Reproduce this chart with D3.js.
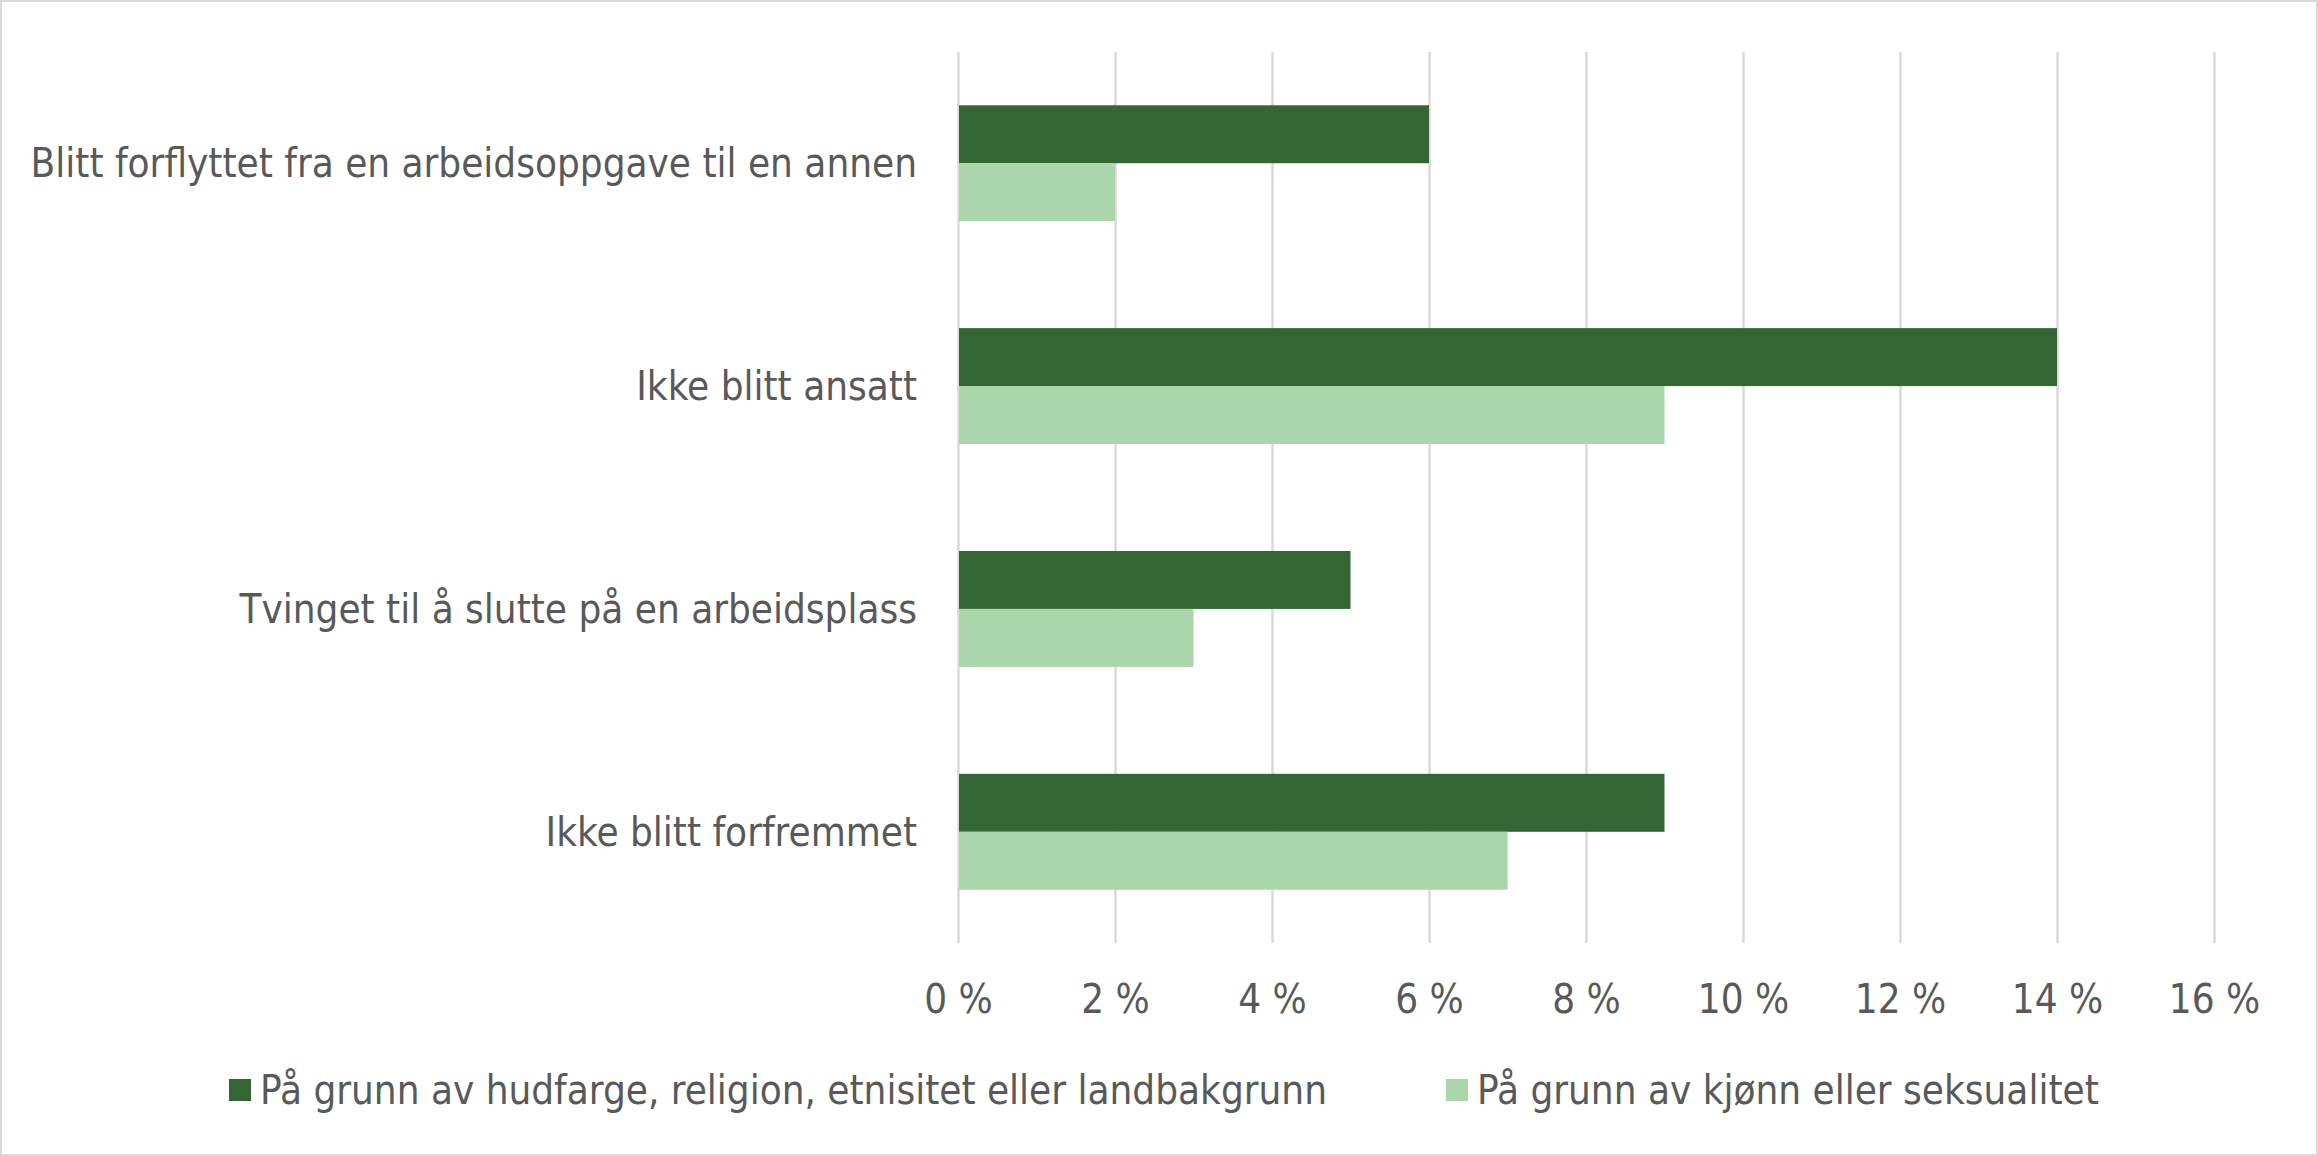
<!DOCTYPE html>
<html>
<head>
<meta charset="utf-8">
<script src="https://cdn.jsdelivr.net/npm/d3@7"></script>
<style>
  html, body { margin: 0; padding: 0; background: #fff; }
  svg { display: block; }
  text { font-family: "DejaVu Sans Condensed", "DejaVu Sans", sans-serif; fill: #595959; }
</style>
</head>
<body>
<svg id="chart" width="2318" height="1156"></svg>
<script>
const categories = [
  "Blitt forflyttet fra en arbeidsoppgave til en annen",
  "Ikke blitt ansatt",
  "Tvinget til å slutte på en arbeidsplass",
  "Ikke blitt forfremmet"
];
const seriesNames = [
  "På grunn av hudfarge, religion, etnisitet eller landbakgrunn",
  "På grunn av kjønn eller seksualitet"
];
const seriesHudfarge = [6, 14, 5, 9];
const seriesKjonn = [2, 9, 3, 7];
const tickValues = [0, 2, 4, 6, 8, 10, 12, 14, 16];
const colors = ["#336633", "#abd5ab"];

const W = 2318, H = 1156;
const svg = d3.select("#chart");
const fontSize = 40;
const ff = '"DejaVu Sans Condensed", "DejaVu Sans", sans-serif';

svg.append("rect").attr("x", 1).attr("y", 1).attr("width", W - 2).attr("height", H - 2)
  .attr("fill", "#fff").attr("stroke", "#d9d9d9").attr("stroke-width", 2);

const plot = { left: 958, right: 2214, top: 52, bottom: 943 };

const x = d3.scaleLinear().domain([0, 16]).range([plot.left, plot.right]);
const y = d3.scaleBand().domain(categories).range([plot.top, plot.bottom]).paddingInner(0.48).paddingOuter(0.239);
const ySub = d3.scaleBand().domain([0, 1]).range([0, y.bandwidth()]);

// gridlines
const grid = d3.axisBottom(x).tickValues(tickValues).tickSize(-(plot.bottom - plot.top)).tickFormat("");
const gg = svg.append("g").attr("transform", `translate(0,${plot.bottom})`).call(grid);
gg.select(".domain").remove();
gg.selectAll(".tick line").attr("stroke", "#d9d9d9").attr("stroke-width", 2.5);

// bars
const data = categories.map((c, i) => ({ cat: c, vals: [seriesHudfarge[i], seriesKjonn[i]] }));
const groups = svg.append("g").selectAll("g").data(data).join("g")
  .attr("transform", d => `translate(0,${y(d.cat)})`);
groups.selectAll("rect").data(d => d.vals.map((v, j) => ({ v, j }))).join("rect")
  .attr("x", x(0) + 1)
  .attr("y", d => ySub(d.j))
  .attr("width", d => x(d.v) - x(0) - 1)
  .attr("height", ySub.bandwidth())
  .attr("fill", d => colors[d.j]);

// x axis labels
const xa = d3.axisBottom(x).tickValues(tickValues).tickSize(0).tickPadding(0).tickFormat(d => d + " %");
const xg = svg.append("g").attr("transform", `translate(0,999)`).call(xa);
xg.select(".domain").remove();
xg.selectAll("text").attr("font-size", fontSize).attr("dy", "0.35em").attr("y", 0)
  .style("font-family", ff).attr("fill", "#595959");

// y axis labels
const ya = d3.axisLeft(y).tickSize(0).tickPadding(0);
const yg = svg.append("g").attr("transform", `translate(917,0)`).call(ya);
yg.select(".domain").remove();
yg.selectAll("text").attr("font-size", fontSize).attr("dy", "0.35em")
  .style("font-family", ff).attr("fill", "#595959");

// legend
const legendX = [229, 1446];
const leg = svg.append("g").selectAll("g").data(seriesNames).join("g")
  .attr("transform", (d, i) => `translate(${legendX[i]},1090)`);
leg.append("rect").attr("x", 0).attr("y", -11).attr("width", 22).attr("height", 22)
  .attr("fill", (d, i) => colors[i]);
leg.append("text").attr("x", 31).attr("y", 0).attr("dy", "0.35em").attr("font-size", fontSize)
  .style("font-family", ff).text(d => d);
</script>
</body>
</html>
